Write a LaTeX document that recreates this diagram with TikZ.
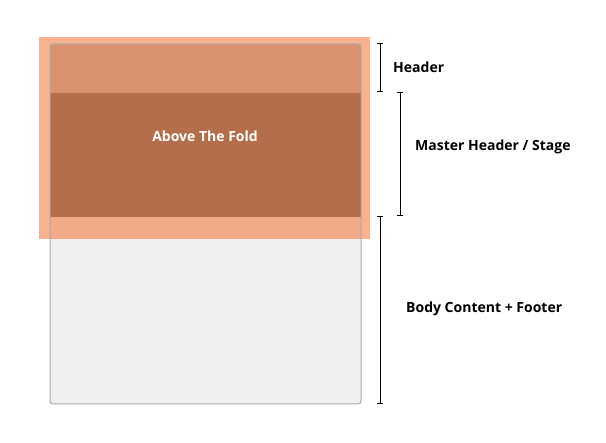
\documentclass[tikz,border=0pt]{standalone}
\usepackage{fontspec}
\setmainfont{Open Sans}
\definecolor{outerorange}{HTML}{F7B28F}
\definecolor{lowband}{HTML}{F2AB89}
\definecolor{headband}{HTML}{D9916F}
\definecolor{stageband}{HTML}{B56E4C}
\definecolor{pagefill}{HTML}{EFEFEF}
\definecolor{pageline}{HTML}{AAAAAA}
\begin{document}
\begin{tikzpicture}[x=1pt,y=-1pt,
  band/.style={draw=none,inner sep=0pt,outer sep=0pt},
  lbl/.style={font=\bfseries\fontsize{14}{16}\selectfont,text=black,inner sep=0pt,anchor=west},
  tick/.style={line width=1pt}
]
\useasboundingbox (0,0) rectangle (606,443);
\fill[white] (0,0) rectangle (606,443);
% page
\fill[pagefill] (50,44) rectangle (361,404);
% overlay
\fill[outerorange] (39,37) rectangle (370,239);
\fill[lowband] (50,217) rectangle (361,239);
\fill[headband] (50,44) rectangle (361,93);
\node[band,fill=stageband,minimum width=311pt,minimum height=124pt,anchor=north west] (stage) at (50,93) {};
\node[font=\bfseries\fontsize{14}{16}\selectfont,text=white] (fold) at (205,136) {Above The Fold};
\draw[pageline,line width=1pt,rounded corners=3pt] (50,44) rectangle (361,404);
% brackets
\coordinate (h1) at (380,44); \coordinate (h2) at (380,92);
\coordinate (m1) at (400,93); \coordinate (m2) at (400,216);
\coordinate (b1) at (380,217); \coordinate (b2) at (380,404);
\draw[tick] (h1) -- (h2);
\draw[tick] ([xshift=-3pt]h1) -- ([xshift=3pt]h1);
\draw[tick] ([xshift=-3pt]h2) -- ([xshift=3pt]h2);
\draw[tick] (m1) -- (m2);
\draw[tick] ([xshift=-3pt]m1) -- ([xshift=3pt]m1);
\draw[tick] ([xshift=-3pt]m2) -- ([xshift=3pt]m2);
\draw[tick] (b1) -- (b2);
\draw[tick] ([xshift=-3pt]b1) -- ([xshift=3pt]b1);
\draw[tick] ([xshift=-3pt]b2) -- ([xshift=3pt]b2);
\node[lbl] (header) at (393,67) {Header};
\node[lbl] (master) at (415,147) {Master Header / Stage};
\node[lbl] (body) at (406,309) {Body Content + Footer};
\end{tikzpicture}
\end{document}
